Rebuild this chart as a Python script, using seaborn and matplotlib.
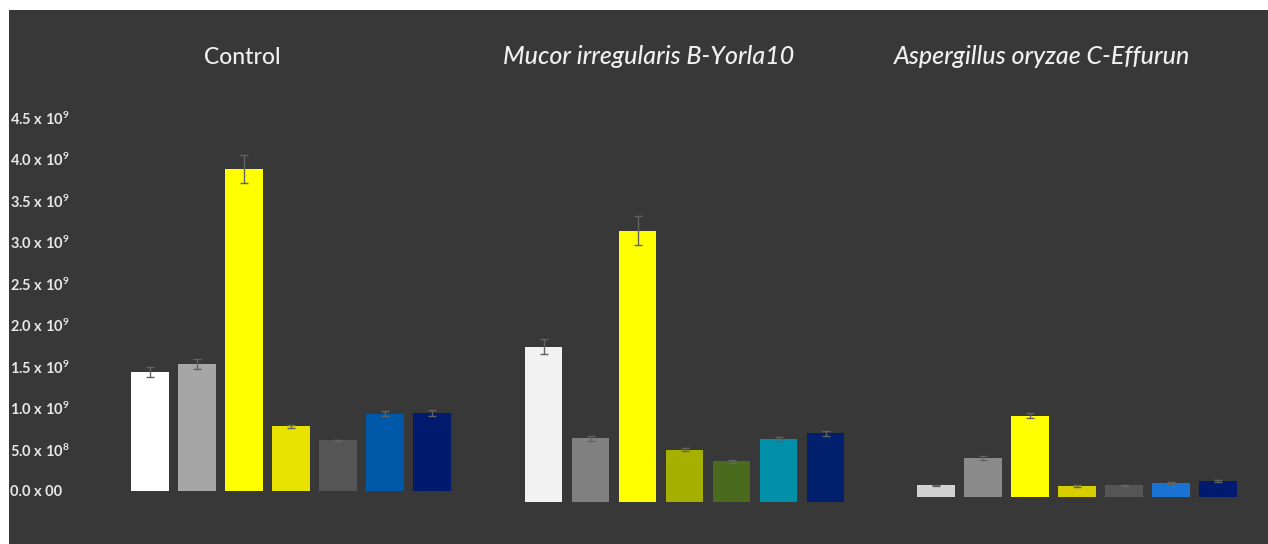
import matplotlib
matplotlib.use("Agg")
import matplotlib.pyplot as plt
import seaborn as sns
import numpy as np
import pandas as pd
from matplotlib.patches import Rectangle

# ---- data -------------------------------------------------------------
bars = ["1", "2", "3", "4", "5", "6", "7"]

group_titles = ["Control", "Mucor irregularis B-Yorla10", "Aspergillus oryzae C-Effurun"]
title_italic = [False, True, True]

control_vals = [1.43e9, 1.53e9, 3.88e9, 0.78e9, 0.61e9, 0.93e9, 0.94e9]
control_err = [0.06e9, 0.06e9, 0.17e9, 0.02e9, 0.01e9, 0.03e9, 0.04e9]

mucor_vals = [1.87e9, 0.77e9, 3.27e9, 0.63e9, 0.49e9, 0.76e9, 0.83e9]
mucor_err = [0.09e9, 0.03e9, 0.17e9, 0.02e9, 0.02e9, 0.02e9, 0.03e9]

asper_vals = [0.14e9, 0.47e9, 0.98e9, 0.13e9, 0.14e9, 0.17e9, 0.19e9]
asper_err = [0.01e9, 0.02e9, 0.03e9, 0.01e9, 0.01e9, 0.01e9, 0.01e9]

control_colors = ["#ffffff", "#a6a6a6", "#ffff00", "#e8e200", "#555555", "#0058a8", "#001a6e"]
mucor_colors = ["#f2f2f2", "#808080", "#ffff00", "#a6b000", "#4a6a1e", "#0090aa", "#00206e"]
asper_colors = ["#d2d2d2", "#8a8a8a", "#ffff00", "#d6ce00", "#555555", "#1a72d2", "#001a70"]

ytick_vals = [0.0, 0.5e9, 1.0e9, 1.5e9, 2.0e9, 2.5e9, 3.0e9, 3.5e9, 4.0e9, 4.5e9]
ytick_labels = ["0.0 x 00", r"5.0 x 10$^8$", r"1.0 x 10$^9$", r"1.5 x 10$^9$",
                r"2.0 x 10$^9$", r"2.5 x 10$^9$", r"3.0 x 10$^9$", r"3.5 x 10$^9$",
                r"4.0 x 10$^9$", r"4.5 x 10$^9$"]

# ---- figure -----------------------------------------------------------
sns.set_theme(style="dark")
plt.rcParams["font.family"] = ["Lato", "DejaVu Sans"]
plt.rcParams["mathtext.fontset"] = "custom"
plt.rcParams["mathtext.rm"] = "Lato:bold"
plt.rcParams["mathtext.it"] = "Lato:italic:bold"
plt.rcParams["mathtext.bf"] = "Lato:bold"

W, H = 1268, 544
BG = "#383838"
fig = plt.figure(figsize=(W / 100, H / 100), dpi=100, facecolor="white")

# dark panel behind everything
fig.patches.append(Rectangle((9 / W, 0), 1 - 9 / W, (H - 10) / H,
                             transform=fig.transFigure, facecolor=BG,
                             edgecolor="none", zorder=-10))

ymax = 4.6e9
px_per_unit = 83 / 1e9
ax_h = ymax * px_per_unit

# (left px, baseline px from top) for each panel
panels = [(126.5, 491), (520.0, 502), (912.5, 497)]
panel_w = 329.0

datasets = [
    (control_vals, control_err, control_colors),
    (mucor_vals, mucor_err, mucor_colors),
    (asper_vals, asper_err, asper_colors),
]

title_x = [242, 649, 1042]
title_y = 57
title_size = [16.5, 18, 18]

for i, ((left, base), (vals, errs, cols)) in enumerate(zip(panels, datasets)):
    ax = fig.add_axes([left / W, (H - base) / H, panel_w / W, ax_h / H])
    ax.set_zorder(1)
    ax.set_facecolor("none")
    df = pd.DataFrame({"bar": bars, "value": vals})
    sns.barplot(data=df, x="bar", y="value", hue="bar", palette=cols,
                legend=False, saturation=1, width=0.8, ax=ax,
                edgecolor="none", errorbar=None)
    ax.errorbar(np.arange(len(bars)), vals, yerr=errs, fmt="none",
                ecolor="#626262", elinewidth=1.0, capsize=3, capthick=1.0,
                zorder=5)
    ax.set_ylim(0, ymax)
    ax.set_xlim(-0.5, len(bars) - 0.5)
    ax.set_xlabel("")
    ax.set_ylabel("")
    ax.set_xticks([])
    for s in ax.spines.values():
        s.set_visible(False)
    ax.grid(False)
    if i == 0:
        pad_pt = (left - 10) * 0.72
        ax.set_yticks(ytick_vals)
        ax.set_yticklabels(ytick_labels)
        ax.tick_params(axis="y", length=0, pad=pad_pt, colors="#e8e8e8",
                       labelsize=10.5)
        for lab in ax.get_yticklabels():
            lab.set_horizontalalignment("left")
            lab.set_fontweight("bold")
    else:
        ax.set_yticks([])

    fig.text(title_x[i] / W, 1 - title_y / H, group_titles[i],
             ha="center", va="center", color="#f0f0f0", fontsize=title_size[i],
             fontweight="medium",
             style="italic" if title_italic[i] else "normal", zorder=2)

fig.savefig("out.png", dpi=100, facecolor=fig.get_facecolor())
